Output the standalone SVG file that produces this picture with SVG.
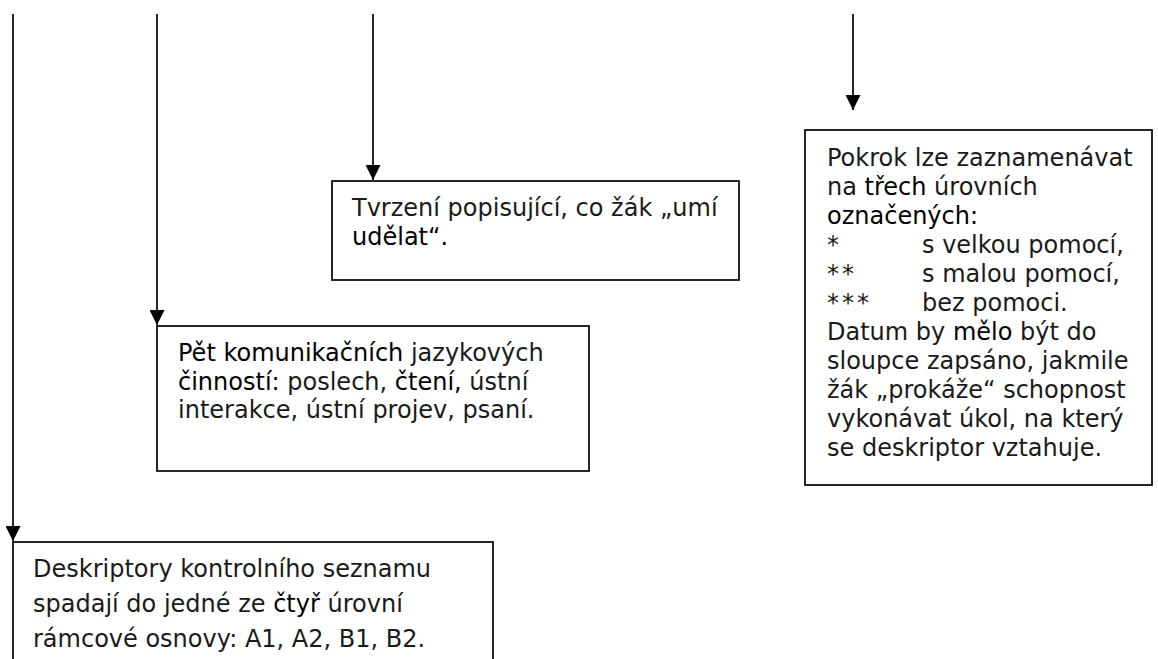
<svg xmlns="http://www.w3.org/2000/svg" width="1158" height="659" viewBox="0 0 1158 659">
<style>
.box{fill:#fff;stroke:#000;stroke-width:1.7}
.con{fill:none;stroke:#000;stroke-width:1.7}
text{font-family:"DejaVu Sans","Liberation Sans",sans-serif;font-size:24px;fill:#1a1a1a}
.hl{fill:#000}
</style>
<defs>
<marker id="ah" markerUnits="userSpaceOnUse" markerWidth="15" markerHeight="15" viewBox="0 0 15 15" refX="15" refY="7.5" orient="auto">
<path d="M0,0 L15,7.5 L0,15 z" fill="#000"/>
</marker>
</defs>
<rect width="1158" height="659" fill="#fff"/>
<g id="n-tvrzeni">
<rect class="box" x="332" y="181" width="407" height="99"/>
<text x="352" y="216">Tvrzení popisující, co žák „umí</text>
<text x="352" y="245"><tspan class="hl">udělat“.</tspan></text>
</g>
<g id="n-pet">
<rect class="box" x="157" y="326" width="432" height="145"/>
<text x="178" y="361"><tspan class="hl">Pět komunikačních</tspan> jazykových</text>
<text x="178" y="389.5"><tspan class="hl">činností:</tspan> poslech, <tspan class="hl">čtení,</tspan> ústní</text>
<text x="178" y="418">interakce, ústní projev, psaní.</text>
</g>
<g id="n-deskriptory">
<rect class="box" x="13" y="542" width="480" height="130"/>
<text x="33" y="577">Deskriptory kontrolního seznamu</text>
<text x="33" y="612">spadají do jedné ze <tspan class="hl">čtyř</tspan> úrovní</text>
<text x="33" y="647">rámcové osnovy: A1, A2, B1, B2.</text>
</g>
<g id="n-pokrok">
<rect class="box" x="805" y="130" width="347" height="355"/>
<text x="827" y="166">Pokrok lze zaznamenávat</text>
<text x="827" y="195">na <tspan class="hl">třech</tspan> úrovních</text>
<text x="827" y="224"><tspan class="hl">označených:</tspan></text>
<text x="827" y="253">*</text><text x="922" y="253">s velkou pomocí,</text>
<text x="827" y="282" letter-spacing="3">**</text><text x="922" y="282">s malou pomocí,</text>
<text x="827" y="311" letter-spacing="3">***</text><text x="922" y="311">bez pomoci.</text>
<text x="827" y="340">Datum by <tspan class="hl">mělo</tspan> být do</text>
<text x="827" y="369">sloupce zapsáno, jakmile</text>
<text x="827" y="398">žák „prokáže“ schopnost</text>
<text x="827" y="427">vykonávat úkol, na který</text>
<text x="827" y="456">se deskriptor vztahuje.</text>
</g>
<g id="connectors">
<line class="con" x1="13" y1="14" x2="13" y2="541" marker-end="url(#ah)"/>
<line class="con" x1="157" y1="14" x2="157" y2="325" marker-end="url(#ah)"/>
<line class="con" x1="373" y1="14" x2="373" y2="180" marker-end="url(#ah)"/>
<line class="con" x1="853" y1="14" x2="853" y2="110" marker-end="url(#ah)"/>
</g>
</svg>
